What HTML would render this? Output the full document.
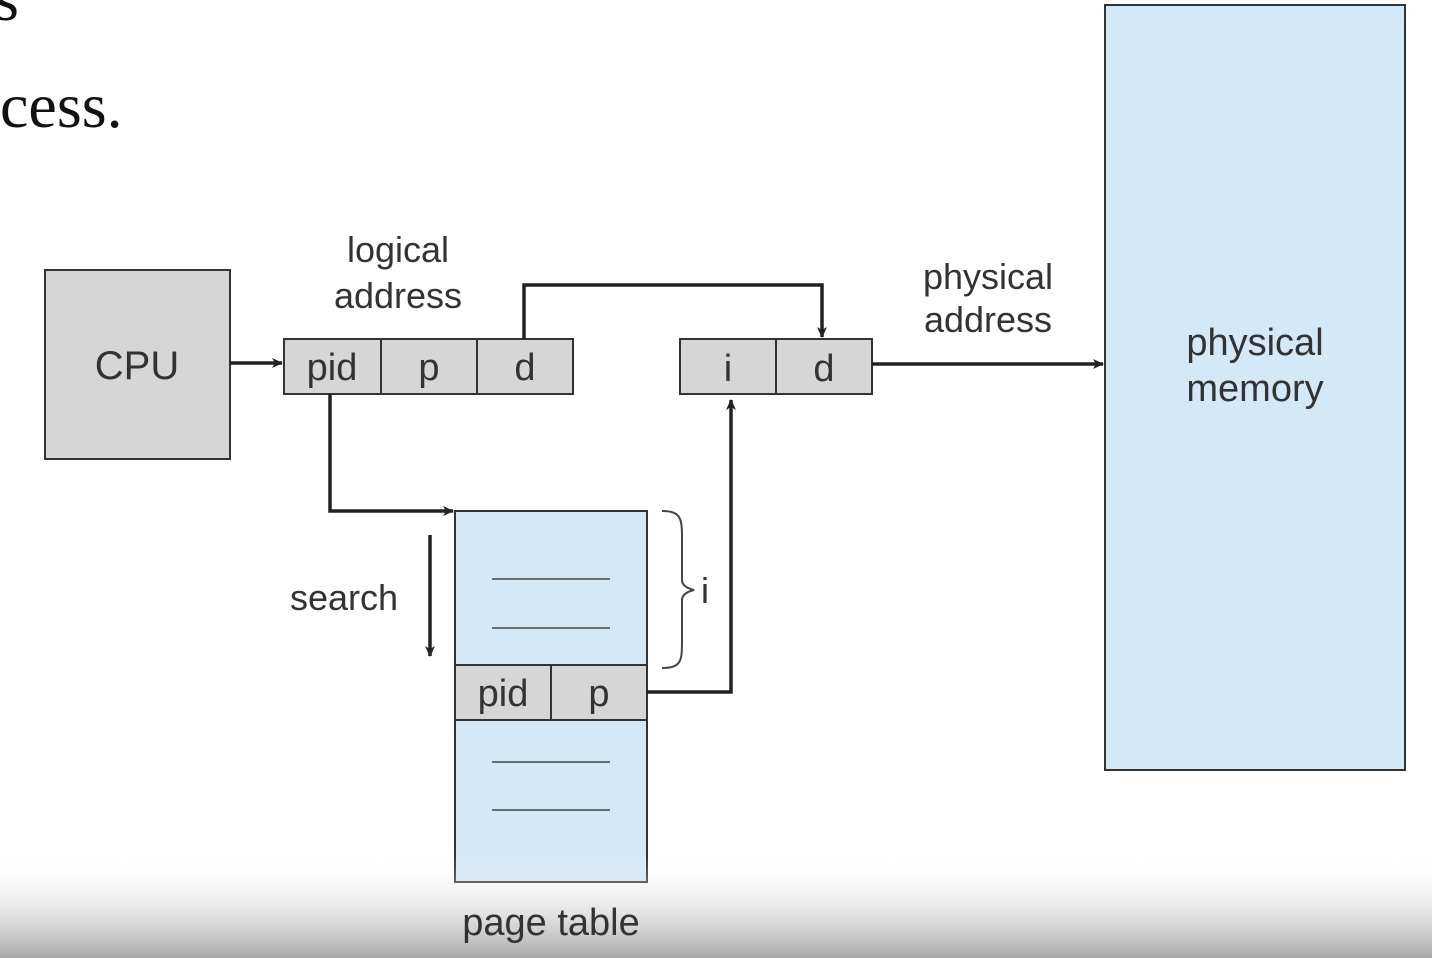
<!DOCTYPE html>
<html><head><meta charset="utf-8"><style>
html,body{margin:0;padding:0;width:1432px;height:958px;overflow:hidden;background:#fff}
svg{display:block}
</style></head><body>
<svg width="1432" height="958" viewBox="0 0 1432 958" xmlns="http://www.w3.org/2000/svg">
<defs>
<linearGradient id="bg" x1="0" y1="0" x2="0" y2="1">
<stop offset="0" stop-color="#ffffff" stop-opacity="0"/>
<stop offset="1" stop-color="#a8a8a8"/>
</linearGradient>
<marker id="ah" markerWidth="12" markerHeight="12" refX="10" refY="6" orient="auto" markerUnits="userSpaceOnUse">
<path d="M0,1 L11,6 L0,11 L3,6 Z" fill="#222"/>
</marker>
</defs>
<g font-family="Liberation Serif, serif" fill="#111">
<text x="-6" y="20" font-size="64">s</text>
<text x="0" y="127" font-size="64">cess.</text>
</g>
<g stroke="#333" stroke-width="2">
<rect x="45" y="270" width="185" height="189" fill="#d6d6d6"/>
<rect x="284" y="339" width="289" height="55" fill="#d6d6d6"/>
<line x1="381" y1="339" x2="381" y2="394"/>
<line x1="477" y1="339" x2="477" y2="394"/>
<rect x="680" y="339" width="192" height="55" fill="#d6d6d6"/>
<line x1="776" y1="339" x2="776" y2="394"/>
<rect x="1105" y="5" width="300" height="765" fill="#d4e9f7"/>
<rect x="455" y="511" width="192" height="371" fill="#d4e9f7"/>
<rect x="455" y="665" width="192" height="55" fill="#d6d6d6"/>
<line x1="551" y1="665" x2="551" y2="720"/>
</g>
<g stroke="#444" stroke-width="1.5">
<line x1="492" y1="579" x2="610" y2="579"/>
<line x1="492" y1="628" x2="610" y2="628"/>
<line x1="492" y1="762" x2="610" y2="762"/>
<line x1="492" y1="810" x2="610" y2="810"/>
</g>
<g stroke="#222" stroke-width="3.5" fill="none">
<line x1="230" y1="363" x2="282" y2="363" marker-end="url(#ah)"/>
<polyline points="524,339 524,285 822,285 822,337" marker-end="url(#ah)"/>
<line x1="872" y1="364" x2="1103" y2="364" marker-end="url(#ah)"/>
<polyline points="330,394 330,511 453,511" marker-end="url(#ah)"/>
<polyline points="647,692 731,692 731,400" marker-end="url(#ah)"/>
<line x1="430" y1="535" x2="430" y2="656" marker-end="url(#ah)"/>
</g>
<path d="M662,511 C682,511 682,520 682,540 L682,580 C682,585 686,588 694,590 C686,592 682,595 682,600 L682,640 C682,660 682,668 662,668" fill="none" stroke="#444" stroke-width="2"/>
<g font-family="Liberation Sans, sans-serif" fill="#333" text-anchor="middle">
<text x="137" y="379" font-size="40">CPU</text>
<text x="332" y="380" font-size="38">pid</text>
<text x="429" y="380" font-size="38">p</text>
<text x="525" y="380" font-size="38">d</text>
<text x="728" y="381" font-size="38">i</text>
<text x="824" y="381" font-size="38">d</text>
<text x="398" y="262" font-size="36">logical</text>
<text x="398" y="308" font-size="36">address</text>
<text x="988" y="289" font-size="36">physical</text>
<text x="988" y="332" font-size="36">address</text>
<text x="1255" y="355" font-size="38">physical</text>
<text x="1255" y="401" font-size="38">memory</text>
<text x="344" y="610" font-size="36">search</text>
<text x="705" y="603" font-size="36">i</text>
<text x="503" y="706" font-size="38">pid</text>
<text x="599" y="706" font-size="38">p</text>
</g>
<rect x="0" y="855" width="1432" height="103" fill="url(#bg)"/>
<text x="551" y="935" font-family="Liberation Sans, sans-serif" font-size="38" fill="#333" text-anchor="middle">page table</text>
</svg>
</body></html>
